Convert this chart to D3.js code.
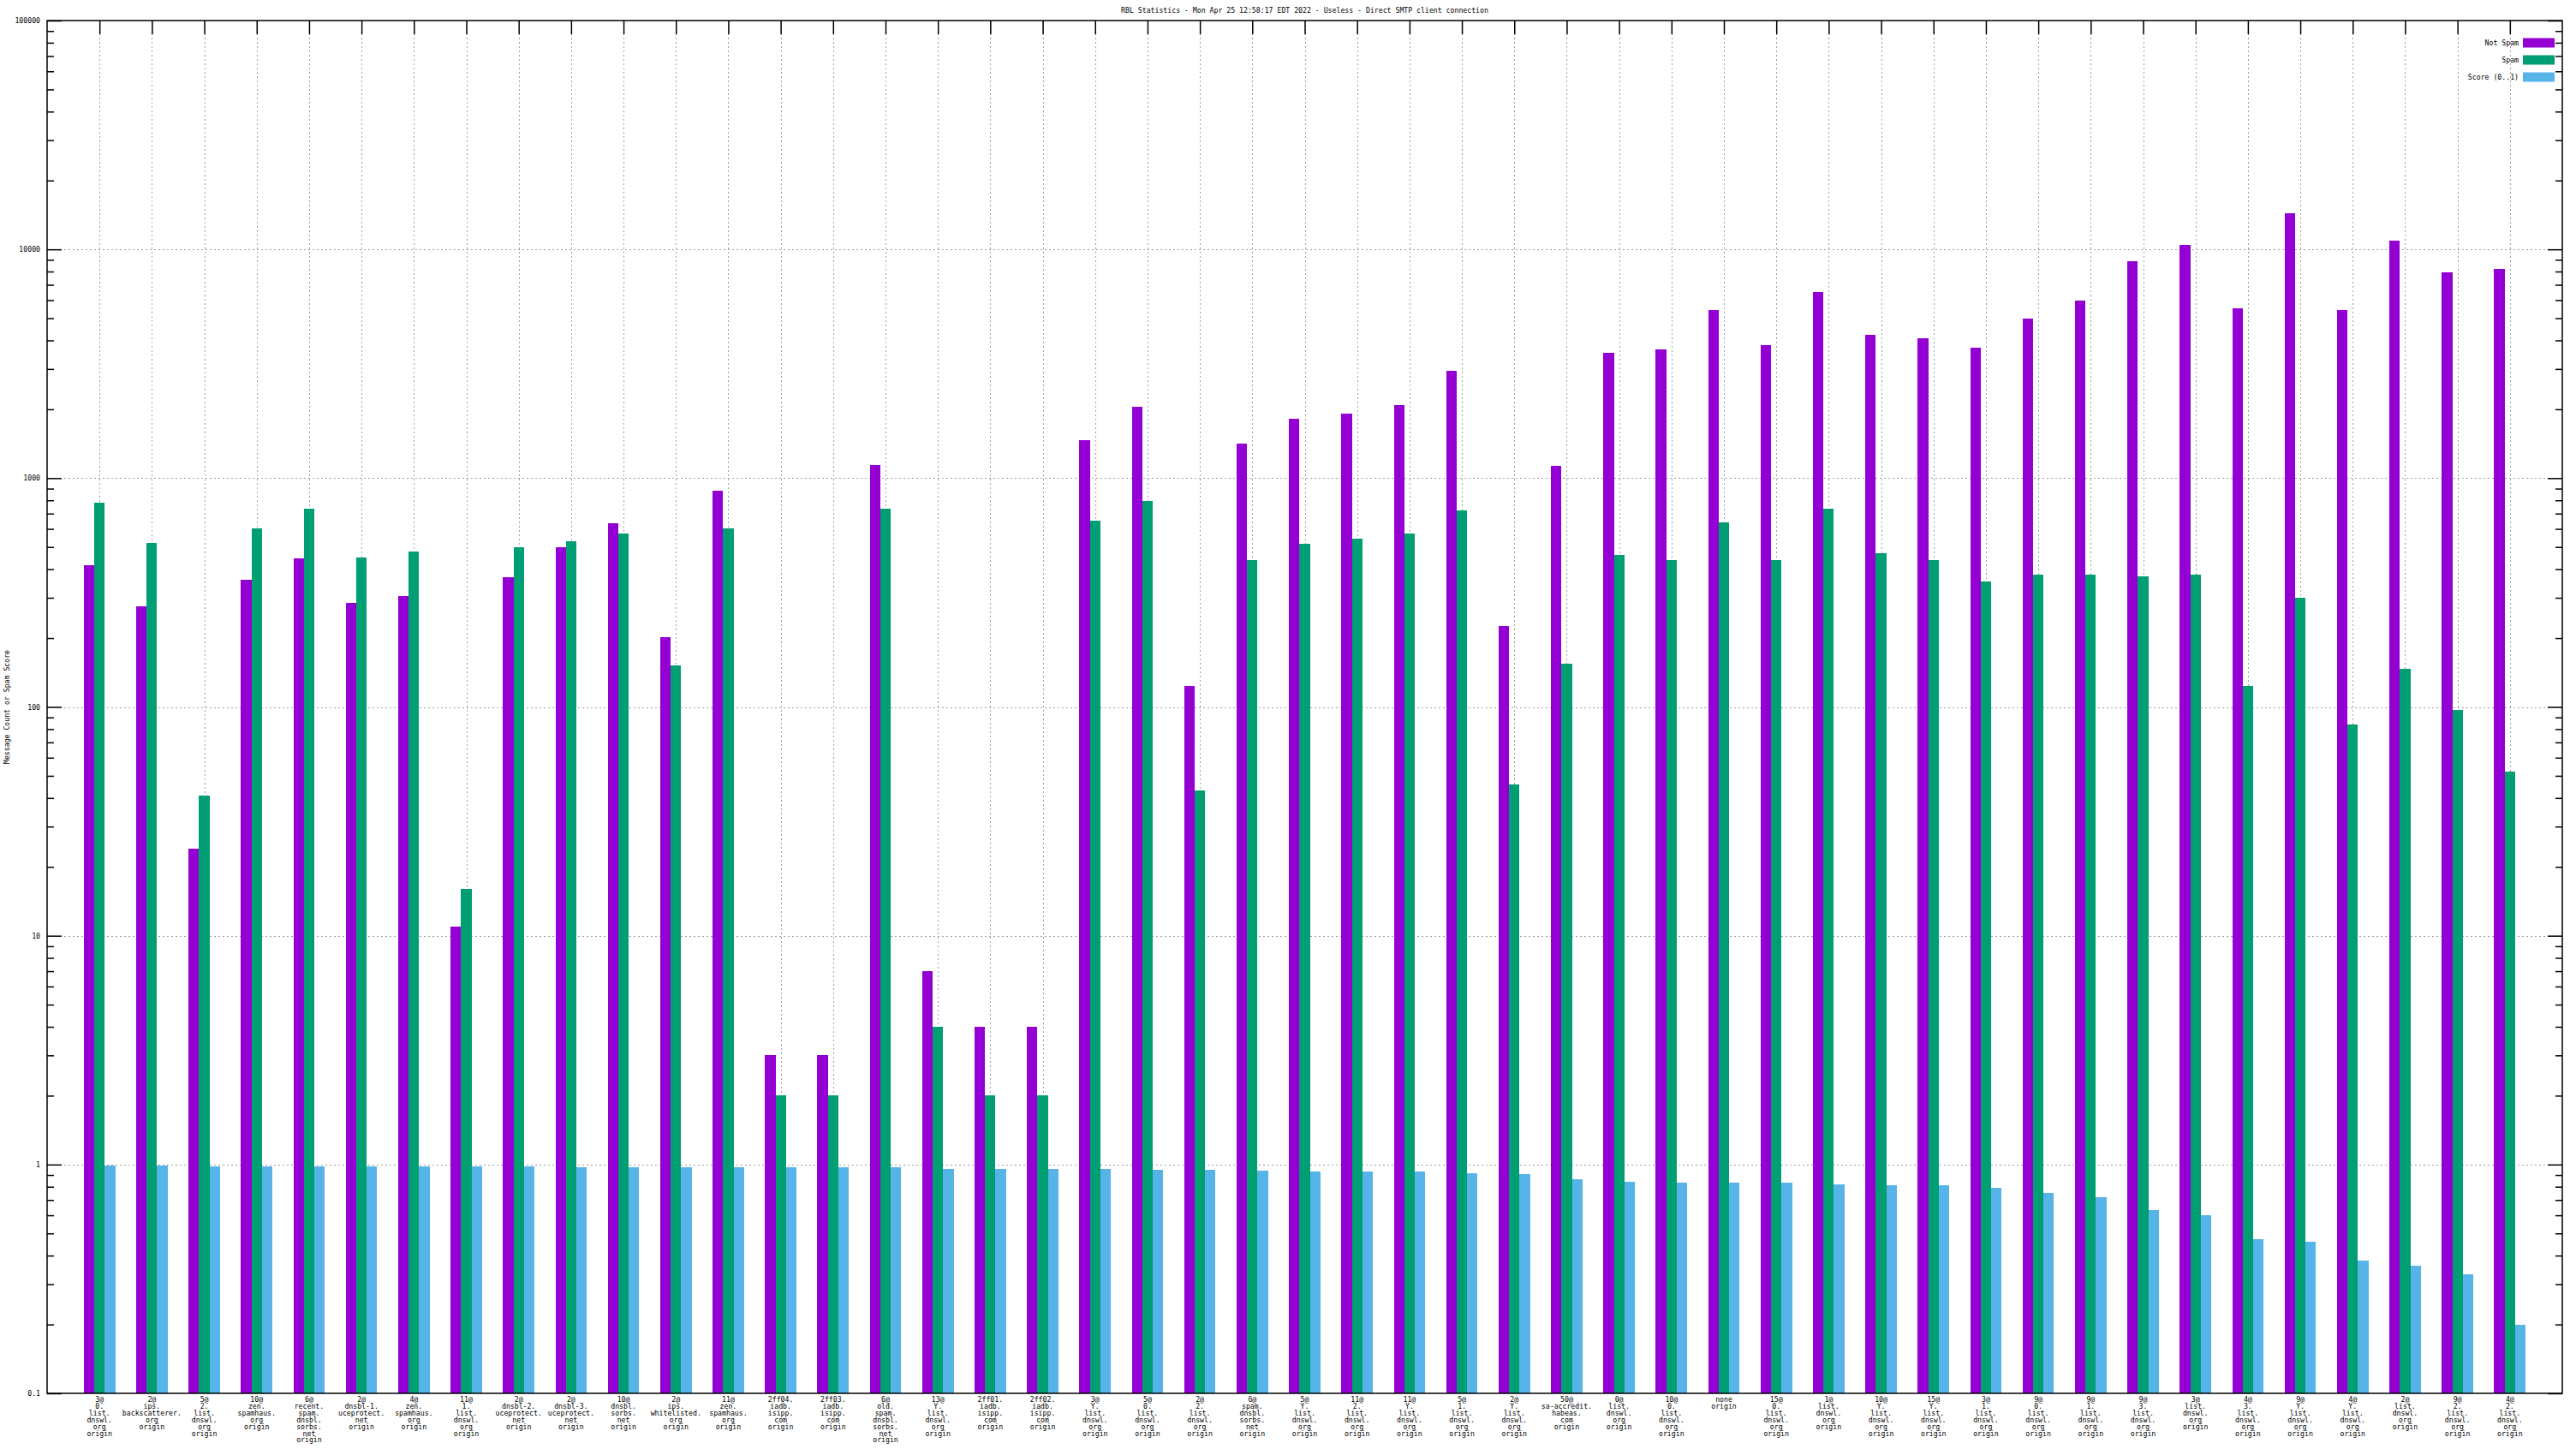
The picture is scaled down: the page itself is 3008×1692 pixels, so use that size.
<!DOCTYPE html>
<html>
<head>
<meta charset="utf-8">
<script src="https://cdn.jsdelivr.net/npm/d3@7"></script>
<style>
  html, body { margin: 0; padding: 0; background: #fff; }
  svg { display: block; }
  text { font-family: "DejaVu Sans Mono", "Liberation Mono", monospace; font-size: 8.2px; fill: #000; }
</style>
</head>
<body>
<script>
const titleText = "RBL Statistics - Mon Apr 25 12:58:17 EDT 2022 - Useless - Direct SMTP client connection";
const yAxisLabel = "Message Count or Spam Score";
const seriesNames = ["Not Spam", "Spam", "Score (0..1)"];
const seriesColors = ["#9400d3", "#009e73", "#56b4e9"];

const categories = [
  "3@\n0.\nlist.\ndnswl.\norg\norigin",
  "2@\nips.\nbackscatterer.\norg\norigin",
  "5@\n2.\nlist.\ndnswl.\norg\norigin",
  "10@\nzen.\nspamhaus.\norg\norigin",
  "6@\nrecent.\nspam.\ndnsbl.\nsorbs.\nnet\norigin",
  "2@\ndnsbl-1.\nuceprotect.\nnet\norigin",
  "4@\nzen.\nspamhaus.\norg\norigin",
  "11@\n1.\nlist.\ndnswl.\norg\norigin",
  "2@\ndnsbl-2.\nuceprotect.\nnet\norigin",
  "2@\ndnsbl-3.\nuceprotect.\nnet\norigin",
  "10@\ndnsbl.\nsorbs.\nnet\norigin",
  "2@\nips.\nwhitelisted.\norg\norigin",
  "11@\nzen.\nspamhaus.\norg\norigin",
  "2ff04.\niadb.\nisipp.\ncom\norigin",
  "2ff03.\niadb.\nisipp.\ncom\norigin",
  "6@\nold.\nspam.\ndnsbl.\nsorbs.\nnet\norigin",
  "13@\nY.\nlist.\ndnswl.\norg\norigin",
  "2ff01.\niadb.\nisipp.\ncom\norigin",
  "2ff02.\niadb.\nisipp.\ncom\norigin",
  "3@\nY.\nlist.\ndnswl.\norg\norigin",
  "5@\n0.\nlist.\ndnswl.\norg\norigin",
  "2@\n2.\nlist.\ndnswl.\norg\norigin",
  "6@\nspam.\ndnsbl.\nsorbs.\nnet\norigin",
  "5@\nY.\nlist.\ndnswl.\norg\norigin",
  "11@\n2.\nlist.\ndnswl.\norg\norigin",
  "11@\nY.\nlist.\ndnswl.\norg\norigin",
  "5@\n1.\nlist.\ndnswl.\norg\norigin",
  "2@\nY.\nlist.\ndnswl.\norg\norigin",
  "50@\nsa-accredit.\nhabeas.\ncom\norigin",
  "0@\nlist.\ndnswl.\norg\norigin",
  "10@\n0.\nlist.\ndnswl.\norg\norigin",
  "none\norigin",
  "15@\n0.\nlist.\ndnswl.\norg\norigin",
  "1@\nlist.\ndnswl.\norg\norigin",
  "10@\nY.\nlist.\ndnswl.\norg\norigin",
  "15@\nY.\nlist.\ndnswl.\norg\norigin",
  "3@\n1.\nlist.\ndnswl.\norg\norigin",
  "9@\n0.\nlist.\ndnswl.\norg\norigin",
  "9@\n1.\nlist.\ndnswl.\norg\norigin",
  "9@\n3.\nlist.\ndnswl.\norg\norigin",
  "3@\nlist.\ndnswl.\norg\norigin",
  "4@\n3.\nlist.\ndnswl.\norg\norigin",
  "9@\nY.\nlist.\ndnswl.\norg\norigin",
  "4@\nY.\nlist.\ndnswl.\norg\norigin",
  "2@\nlist.\ndnswl.\norg\norigin",
  "9@\n2.\nlist.\ndnswl.\norg\norigin",
  "4@\n2.\nlist.\ndnswl.\norg\norigin"
];

const notSpam = [418, 276, 24, 360, 446, 285, 305, 11, 368, 501, 635, 202, 879, 3, 3, 1146, 7, 4, 4, 1468,
  2043, 123, 1420, 1820, 1913, 2078, 2940, 226, 1127, 3525, 3648, 5420, 3830, 6500, 4230, 4093, 3707, 4990,
  5990, 8910, 10500, 5510, 14400, 5420, 10870, 7930, 8200];
const spam = [783, 519, 41, 601, 733, 449, 477, 16, 501, 528, 574, 152, 601, 2, 2, 733, 4, 2, 2, 653,
  796, 43, 439, 518, 544, 572, 721, 46, 155, 461, 439, 642, 439, 733, 469, 439, 354, 378,
  378, 372, 378, 123, 300, 84, 147, 97, 52];
const score = [0.99, 0.99, 0.98, 0.98, 0.98, 0.98, 0.98, 0.98, 0.98, 0.97, 0.97, 0.97, 0.97, 0.97, 0.97, 0.97, 0.96, 0.96, 0.96, 0.96,
  0.95, 0.95, 0.94, 0.93, 0.93, 0.93, 0.92, 0.91, 0.86, 0.84, 0.83, 0.83, 0.83, 0.82, 0.81, 0.81, 0.79, 0.75,
  0.72, 0.63, 0.60, 0.47, 0.46, 0.38, 0.36, 0.33, 0.20];

const yMajorTicks = [0.1, 1, 10, 100, 1000, 10000, 100000];
const yTickLabels = ["0.1", "1", "10", "100", "1000", "10000", "100000"];

const W = 3008, H = 1692;
const L = 55, R = 2992, T = 24, B = 1627;

const svg = d3.select("body").append("svg").attr("width", W).attr("height", H);

const x = d3.scaleLinear().domain([-1, categories.length]).range([L, R]);
const y = d3.scaleLog().domain([0.1, 100000]).range([B, T]);
const bw = x(0.2) - x(0);

const minorTicks = [];
for (let e = -1; e < 5; e++) for (let k = 2; k <= 9; k++) minorTicks.push(k * Math.pow(10, e));

// grid
const grid = svg.append("g").attr("stroke", "#a0a0a0").attr("stroke-width", 1).attr("stroke-dasharray", "2,3");
grid.selectAll("line.v").data(d3.range(categories.length)).enter().append("line")
  .attr("x1", d => Math.round(x(d)) + 0.5).attr("x2", d => Math.round(x(d)) + 0.5)
  .attr("y1", T).attr("y2", B);
grid.selectAll("line.h").data(yMajorTicks.slice(1, -1)).enter().append("line")
  .attr("x1", L).attr("x2", R)
  .attr("y1", d => Math.round(y(d)) + 0.5).attr("y2", d => Math.round(y(d)) + 0.5);

// axes (ticks)
function styleAxis(g) {
  g.select(".domain").remove();
  g.selectAll("line").attr("stroke", "#000").attr("stroke-width", 1.5);
  g.selectAll("text").style("font-family", "DejaVu Sans Mono, monospace").style("font-size", "8.2px").attr("fill", "#000");
}
const fmt = d => yTickLabels[yMajorTicks.indexOf(d)];
svg.append("g").attr("transform", `translate(${L},0)`)
  .call(d3.axisLeft(y).tickValues(yMajorTicks).tickSize(-17).tickPadding(8).tickFormat(fmt))
  .call(styleAxis);
svg.append("g").attr("transform", `translate(${L},0)`)
  .call(d3.axisLeft(y).tickValues(minorTicks).tickSize(-8).tickFormat(""))
  .call(styleAxis);
svg.append("g").attr("transform", `translate(${R},0)`)
  .call(d3.axisRight(y).tickValues(yMajorTicks).tickSize(-17).tickFormat(""))
  .call(styleAxis);
svg.append("g").attr("transform", `translate(${R},0)`)
  .call(d3.axisRight(y).tickValues(minorTicks).tickSize(-8).tickFormat(""))
  .call(styleAxis);
svg.append("g").attr("transform", `translate(0,${T})`)
  .call(d3.axisTop(x).tickValues(d3.range(categories.length)).tickSize(-16).tickFormat(""))
  .call(styleAxis);
svg.append("g").attr("transform", `translate(0,${B})`)
  .call(d3.axisBottom(x).tickValues(d3.range(categories.length)).tickSize(-16).tickFormat(""))
  .call(styleAxis);

// bars
const series = [notSpam, spam, score];
series.forEach((vals, s) => {
  svg.append("g").attr("fill", seriesColors[s]).attr("shape-rendering", "crispEdges")
    .selectAll("rect").data(vals).enter().append("rect")
    .attr("x", (d, i) => x(i + (s - 1) * 0.2) - bw / 2)
    .attr("width", bw)
    .attr("y", d => y(d))
    .attr("height", d => B - y(d));
});

// border
svg.append("rect").attr("x", L).attr("y", T).attr("width", R - L).attr("height", B - T)
  .attr("fill", "none").attr("stroke", "#000").attr("stroke-width", 1.5);

// x labels
const xl = svg.append("g");
categories.forEach((c, i) => {
  const t = xl.append("text").attr("text-anchor", "middle").attr("x", x(i)).attr("y", 1637);
  c.split("\n").forEach((ln, j) => {
    t.append("tspan").attr("x", x(i)).attr("dy", j === 0 ? 0 : 7.9).text(ln);
  });
});

// title
svg.append("text").attr("x", (L + R) / 2).attr("y", 15).attr("text-anchor", "middle").text(titleText);

// y label
svg.append("text").attr("transform", `translate(11,${(T + B) / 2}) rotate(-90)`)
  .attr("text-anchor", "middle").text(yAxisLabel);

// legend
const lg = svg.append("g");
seriesNames.forEach((n, s) => {
  const cy = 50 + s * 20;
  lg.append("text").attr("x", 2941).attr("y", cy + 3).attr("text-anchor", "end").text(n);
  lg.append("rect").attr("x", 2946).attr("y", cy - 5.5).attr("width", 37).attr("height", 11).attr("fill", seriesColors[s]);
});
</script>
</body>
</html>
